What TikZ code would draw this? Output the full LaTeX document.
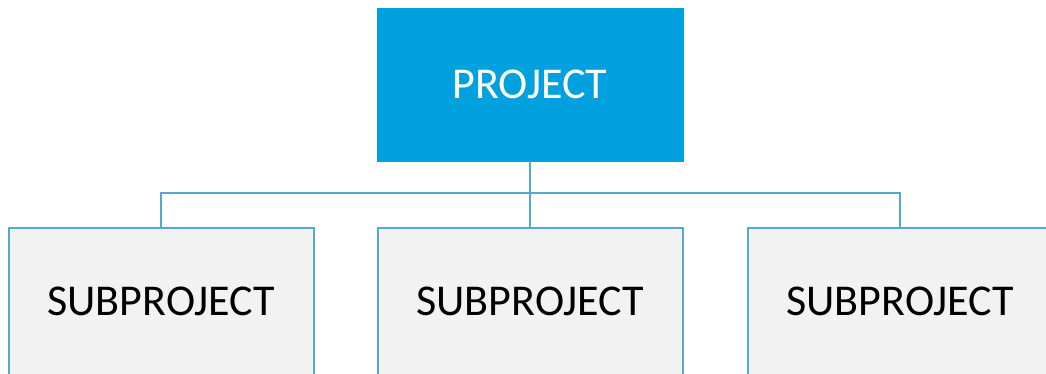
\documentclass[tikz,border=0pt]{standalone}
\usepackage{fontspec}
\setmainfont{Carlito}
\usetikzlibrary{positioning}
\definecolor{projblue}{RGB}{0,161,222}
\definecolor{linkblue}{RGB}{80,172,204}
\definecolor{subgray}{RGB}{242,242,242}
\tikzset{
  projbox/.style={fill=projblue,draw=projblue,minimum width=306pt,minimum height=153pt,
    text=white,font=\fontsize{44}{50}\selectfont,inner sep=0pt},
  subbox/.style={fill=subgray,draw=linkblue,line width=2pt,anchor=north,
    minimum width=305pt,minimum height=174pt,font=\fontsize{44}{50}\selectfont,inner sep=0pt,
    text height=28pt,text depth=28pt},
  link/.style={draw=linkblue,line width=2pt}
}

\begin{document}
\begin{tikzpicture}[x=1pt,y=-1pt]
\useasboundingbox (0,0) rectangle (1046,373);
\clip (0,0) rectangle (1046,373);

% Top box
\node[projbox] (project) at (530,84.5) {PROJECT};

% Sub boxes
\node[subbox] (sub1) at (161,227) {SUBPROJECT};
\node[subbox] (sub2) at (530,227) {SUBPROJECT};
\node[subbox] (sub3) at (900,227) {SUBPROJECT};

% Connectors
\draw[link] (project.south) -- ++(0,32) coordinate (bus);
\draw[link] (sub1.north) |- (bus) -| (sub3.north);
\draw[link] (bus) -- (sub2.north);
\end{tikzpicture}
\end{document}
